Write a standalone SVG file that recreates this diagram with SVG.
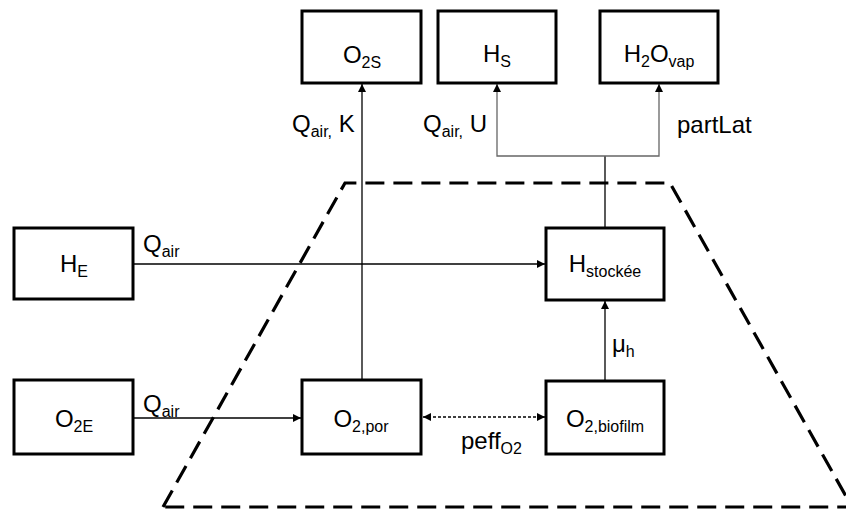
<svg xmlns="http://www.w3.org/2000/svg" width="846" height="511" viewBox="0 0 846 511">
<style>
.box{fill:#fff;stroke:#000;stroke-width:3}
.t{font-family:"Liberation Sans",Arial,sans-serif;font-size:24px;fill:#000}
.c{text-anchor:middle}
.s{font-size:16px}
.ln{fill:none;stroke:#000;stroke-width:1.3}
.gl{fill:none;stroke:#666;stroke-width:1.3}
.dl{fill:none;stroke:#000;stroke-width:1.3;stroke-dasharray:3 2}
.trap{fill:none;stroke:#000;stroke-width:3.2;stroke-dasharray:19 9}
</style>
<defs>
<marker id="ah" viewBox="0 0 10 10" refX="10" refY="5" markerWidth="8" markerHeight="8" markerUnits="userSpaceOnUse" orient="auto-start-reverse">
<path d="M0,0 L10,5 L0,10 Z" fill="#000"/>
</marker>
</defs>
<path class="trap" d="M163,507 L345,183 L670,183 L852,507 Z"/>
<g id="connectors">
<path class="ln" d="M362,380 V84" marker-end="url(#ah)"/>
<path class="ln" d="M605,228 V156"/>
<path class="gl" d="M497,84 V156 H659 V84" marker-start="url(#ah)" marker-end="url(#ah)"/>
<path class="ln" d="M133,264 H545" marker-end="url(#ah)"/>
<path class="ln" d="M133,418 H301" marker-end="url(#ah)"/>
<path class="dl" d="M423,417 H545" marker-start="url(#ah)" marker-end="url(#ah)"/>
<path class="ln" d="M605,380 V301" marker-end="url(#ah)"/>
<text class="t" x="143" y="252">Q<tspan class="s" dy="5">air</tspan></text>
<text class="t" x="143" y="412">Q<tspan class="s" dy="5">air</tspan></text>
<text class="t" x="292" y="132">Q<tspan class="s" dy="5">air,</tspan><tspan dy="-5"> K</tspan></text>
<text class="t" x="423" y="132">Q<tspan class="s" dy="5">air,</tspan><tspan dy="-5"> U</tspan></text>
<text class="t" x="677" y="133">partLat</text>
<text class="t" x="612" y="352">μ<tspan class="s" dy="5">h</tspan></text>
<text class="t" x="461" y="449">peff<tspan class="s" dy="5">O2</tspan></text>
</g>
<g id="O2S"><rect class="box" x="302" y="11" width="119" height="72"/><text class="t c" x="362" y="63">O<tspan class="s" dy="5">2S</tspan></text></g>
<g id="HS"><rect class="box" x="438" y="11" width="118" height="72"/><text class="t c" x="497" y="62">H<tspan class="s" dy="5">S</tspan></text></g>
<g id="H2Ovap"><rect class="box" x="600" y="11" width="118" height="72"/><text class="t c" x="659" y="62">H<tspan class="s" dy="5">2</tspan><tspan dy="-5">O</tspan><tspan class="s" dy="5">vap</tspan></text></g>
<g id="HE"><rect class="box" x="14" y="228" width="119" height="71"/><text class="t c" x="74" y="272">H<tspan class="s" dy="5">E</tspan></text></g>
<g id="Hstockee"><rect class="box" x="546" y="228" width="118" height="72"/><text class="t c" x="605" y="272">H<tspan class="s" dy="5">stockée</tspan></text></g>
<g id="O2E"><rect class="box" x="14" y="380" width="119" height="74"/><text class="t c" x="74" y="427">O<tspan class="s" dy="5">2E</tspan></text></g>
<g id="O2por"><rect class="box" x="302" y="380" width="119" height="74"/><text class="t c" x="361" y="427">O<tspan class="s" dy="5">2,por</tspan></text></g>
<g id="O2biofilm"><rect class="box" x="546" y="381" width="118" height="73"/><text class="t c" x="605" y="427">O<tspan class="s" dy="5">2,biofilm</tspan></text></g>
</svg>
